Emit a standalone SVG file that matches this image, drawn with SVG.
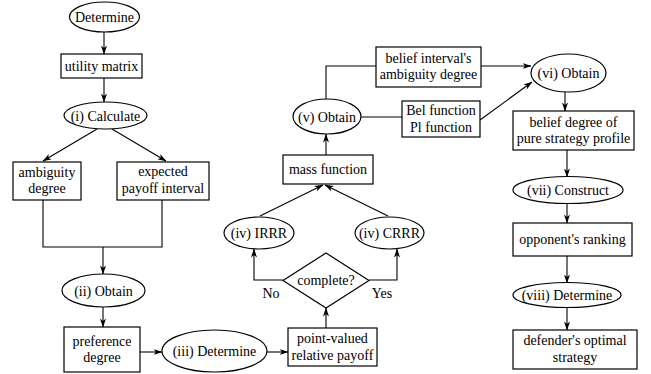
<svg xmlns="http://www.w3.org/2000/svg" width="651" height="374" viewBox="0 0 651 374">
<defs>
<marker id="ah" markerWidth="9" markerHeight="6" refX="8.5" refY="3" orient="auto" markerUnits="userSpaceOnUse">
<path d="M0,0 L9,3 L0,6 L2.5,3 z" fill="#000"/>
</marker>
</defs>
<style>
.n{fill:#fff;stroke:#000;stroke-width:1.2}
text{font-family:"Liberation Serif","Times New Roman",serif;font-size:14px;fill:#000;text-anchor:middle}
.c{fill:none;stroke:#000;stroke-width:1.1}
.a{marker-end:url(#ah)}
</style>
<g id="connectors">
<line class="c a" x1="104" y1="32" x2="104" y2="54"/>
<line class="c a" x1="104" y1="78" x2="104" y2="102"/>
<line class="c a" x1="97" y1="129" x2="43" y2="161"/>
<line class="c a" x1="112" y1="129" x2="166" y2="161"/>
<polyline class="c" points="43,200 43,247 162,247 162,200"/>
<line class="c a" x1="103" y1="247" x2="103" y2="274"/>
<line class="c a" x1="103" y1="306" x2="103" y2="327"/>
<line class="c a" x1="140" y1="352" x2="162" y2="352"/>
<line class="c a" x1="266" y1="352" x2="288" y2="352"/>
<line class="c a" x1="326" y1="328" x2="326" y2="308"/>
<polyline class="c a" points="283,280 254,280 254,249"/>
<polyline class="c a" points="369,280 397,280 397,249"/>
<line class="c a" x1="260" y1="216" x2="323" y2="185"/>
<line class="c a" x1="388" y1="216" x2="325" y2="185"/>
<line class="c a" x1="326" y1="155" x2="326" y2="134"/>
<polyline class="c" points="326,99 326,66 376,66"/>
<line class="c" x1="361" y1="117" x2="402" y2="117"/>
<line class="c a" x1="481" y1="66" x2="531" y2="66"/>
<line class="c a" x1="480" y1="120" x2="532" y2="82"/>
<line class="c a" x1="565" y1="92" x2="565" y2="111"/>
<line class="c a" x1="567" y1="150" x2="567" y2="177"/>
<line class="c a" x1="567" y1="203" x2="567" y2="223"/>
<line class="c a" x1="567" y1="256" x2="567" y2="283"/>
<line class="c a" x1="567" y1="307" x2="567" y2="330"/>
</g>
<g id="n-determine"><ellipse class="n" cx="104.5" cy="17" rx="35" ry="15"/><text x="104.5" y="22">Determine</text></g>
<g id="n-utility"><rect class="n" x="61" y="54" width="81" height="24"/><text x="101.5" y="71">utility matrix</text></g>
<g id="n-calculate"><ellipse class="n" cx="105.5" cy="115.5" rx="41.5" ry="13.5"/><text x="105.5" y="120.5">(i) Calculate</text></g>
<g id="n-ambiguity"><rect class="n" x="13" y="162" width="68" height="38"/><text x="47" y="177">ambiguity</text><text x="47" y="193">degree</text></g>
<g id="n-expected"><rect class="n" x="117" y="162" width="92" height="38"/><text x="163" y="176">expected</text><text x="163" y="193">payoff interval</text></g>
<g id="n-obtain2"><ellipse class="n" cx="103.5" cy="290.5" rx="41.5" ry="16.5"/><text x="103.5" y="295.5">(ii) Obtain</text></g>
<g id="n-preference"><rect class="n" x="64" y="327" width="76" height="45"/><text x="102" y="346">preference</text><text x="102" y="362">degree</text></g>
<g id="n-determine3"><ellipse class="n" cx="214.5" cy="351" rx="52.5" ry="21"/><text x="214.5" y="356">(iii) Determine</text></g>
<g id="n-pointvalued"><rect class="n" x="288" y="328" width="89" height="38"/><text x="332.5" y="343">point-valued</text><text x="332.5" y="360">relative payoff</text></g>
<g id="n-complete"><polygon class="n" points="326,253 369,280.5 326,308 283,280.5"/><text x="326" y="285">complete?</text></g>
<text x="271" y="298">No</text>
<text x="382" y="298">Yes</text>
<g id="n-irrr"><ellipse class="n" cx="259" cy="233" rx="35" ry="16"/><text x="259" y="238">(iv) IRRR</text></g>
<g id="n-crrr"><ellipse class="n" cx="389.5" cy="233" rx="34.5" ry="16"/><text x="389.5" y="238">(iv) CRRR</text></g>
<g id="n-mass"><rect class="n" x="283" y="155" width="90" height="29"/><text x="328" y="174">mass function</text></g>
<g id="n-obtain5"><ellipse class="n" cx="327" cy="116.5" rx="34" ry="17.5"/><text x="327" y="121.5">(v) Obtain</text></g>
<g id="n-beliefint"><rect class="n" x="376" y="47" width="105" height="40"/><text x="428.5" y="63">belief interval's</text><text x="428.5" y="79">ambiguity degree</text></g>
<g id="n-bel"><rect class="n" x="402" y="101" width="78" height="36"/><text x="441" y="115">Bel function</text><text x="441" y="132">Pl function</text></g>
<g id="n-obtain6"><ellipse class="n" cx="568.5" cy="73" rx="37.5" ry="19"/><text x="568.5" y="78">(vi) Obtain</text></g>
<g id="n-beliefdeg"><rect class="n" x="513" y="111" width="121" height="39"/><text x="573.5" y="127">belief degree of</text><text x="573.5" y="143">pure strategy profile</text></g>
<g id="n-construct"><ellipse class="n" cx="568" cy="190" rx="55" ry="13.5"/><text x="568" y="195">(vii) Construct</text></g>
<g id="n-ranking"><rect class="n" x="513" y="223" width="119" height="33"/><text x="572.5" y="244">opponent's ranking</text></g>
<g id="n-determine8"><ellipse class="n" cx="567" cy="295" rx="54" ry="12.5"/><text x="567" y="300">(viii) Determine</text></g>
<g id="n-defender"><rect class="n" x="513" y="330" width="124" height="39"/><text x="575" y="345">defender's optimal</text><text x="575" y="362">strategy</text></g>
</svg>
